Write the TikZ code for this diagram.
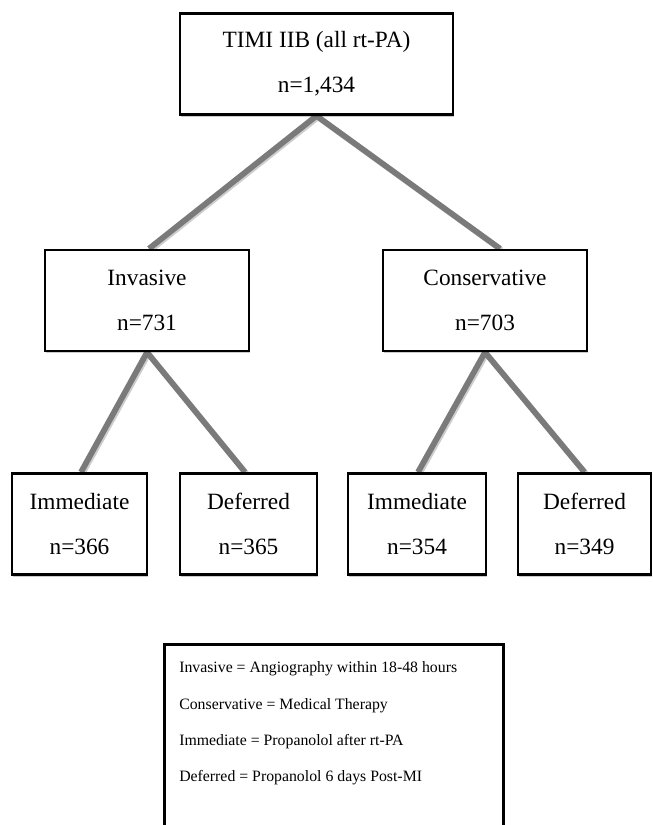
\documentclass[tikz,border=0pt]{standalone}
\usepackage{fontspec}
\setmainfont{Liberation Serif}
\usetikzlibrary{shadows,backgrounds,calc}
\definecolor{linkgray}{RGB}{122,122,122}
\definecolor{linkshade}{RGB}{205,205,205}
\begin{document}
\begin{tikzpicture}[x=0.75pt,y=-0.75pt,
  box/.style={draw=black, line width=2pt, fill=white, rectangle, align=center, inner sep=0pt,
     font=\fontsize{17.5}{33.75}\selectfont, minimum height=101*0.75pt,
     drop shadow={shadow xshift=0.9pt, shadow yshift=-1.8pt, fill=black, opacity=0.2}},
  legendbox/.style={draw=black, line width=2pt, fill=white, rectangle, inner sep=0pt,
     drop shadow={shadow xshift=1.5pt, shadow yshift=-1.5pt, fill=black, opacity=0.25}},
  legendtext/.style={anchor=north west, align=left, inner sep=0pt,
     font=\fontsize{11.85}{27.2}\selectfont},
  link/.style={draw=linkgray, line width=4.3pt, line join=miter},
  linkshadow/.style={draw=linkshade, line width=4.3pt, line join=miter,
     transform canvas={shift={(1.1pt,-1.1pt)}}},
]
\useasboundingbox (0,0) rectangle (653,825);
\clip (0,0) rectangle (653,825);

\node[box, minimum width=273*0.75pt] (top) at (316.5,64) {TIMI IIB (all rt-PA)\\n=1,434};
\node[box, minimum width=204*0.75pt] (inv) at (147,300.5) {Invasive\\n=731};
\node[box, minimum width=204*0.75pt] (cons) at (485,300.5) {Conservative\\n=703};
\node[box, minimum width=135*0.75pt] (imml) at (79.5,524) {Immediate\\n=366};
\node[box, minimum width=137*0.75pt] (defl) at (248.5,524) {Deferred\\n=365};
\node[box, minimum width=138*0.75pt] (immr) at (417,524) {Immediate\\n=354};
\node[box, minimum width=133*0.75pt] (defr) at (584.5,524) {Deferred\\n=349};

\node[legendbox, anchor=north west, minimum width=339*0.75pt, minimum height=230*0.75pt] (legend) at (163,643) {};
\node[legendtext] (legtext) at ($(legend.north west)+(16,18.5)$)
  {Invasive = Angiography within 18-48 hours\\
   Conservative = Medical Therapy\\
   Immediate = Propanolol after rt-PA\\
   Deferred = Propanolol 6 days Post-MI};

\begin{scope}[on background layer]
  \draw[linkshadow] ($(inv.north)+(2,0)$) -- (top.south) -- ($(cons.north)+(15,0)$);
  \draw[linkshadow] ($(imml.north)+(1.5,0)$) -- (inv.south) -- ($(defl.north)+(-3.5,0)$);
  \draw[linkshadow] ($(immr.north)+(1,0)$) -- (cons.south) -- (defr.north);
  \draw[link] ($(inv.north)+(2,0)$) -- (top.south) -- ($(cons.north)+(15,0)$);
  \draw[link] ($(imml.north)+(1.5,0)$) -- (inv.south) -- ($(defl.north)+(-3.5,0)$);
  \draw[link] ($(immr.north)+(1,0)$) -- (cons.south) -- (defr.north);
\end{scope}
\end{tikzpicture}
\end{document}
